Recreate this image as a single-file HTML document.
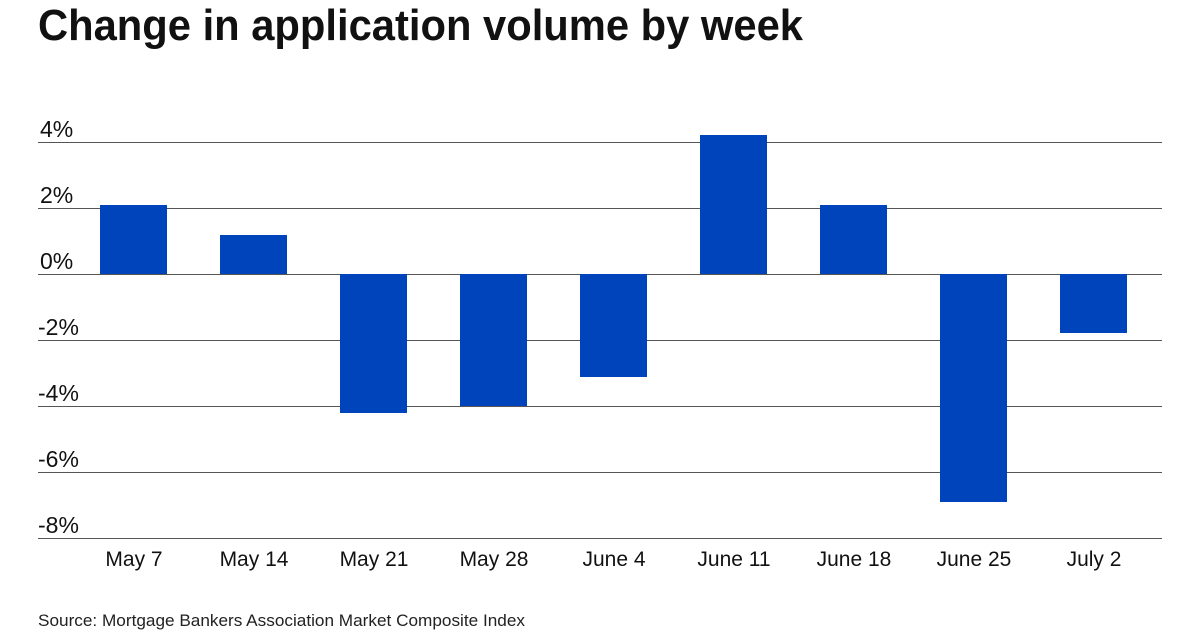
<!DOCTYPE html>
<html><head><style>body{margin:0;background:#fff}svg{display:block}</style></head>
<body>
<svg width="1200" height="630" xmlns="http://www.w3.org/2000/svg" font-family="Liberation Sans, sans-serif">
<rect width="1200" height="630" fill="#fff"/>
<text x="38" y="40" font-size="44" font-weight="bold" fill="#111" textLength="765" lengthAdjust="spacingAndGlyphs">Change in application volume by week</text>
<g stroke="#555" stroke-width="1">
<line x1="38" x2="1162" y1="142.5" y2="142.5"/>
<line x1="38" x2="1162" y1="208.5" y2="208.5"/>
<line x1="38" x2="1162" y1="274.5" y2="274.5"/>
<line x1="38" x2="1162" y1="340.5" y2="340.5"/>
<line x1="38" x2="1162" y1="406.5" y2="406.5"/>
<line x1="38" x2="1162" y1="472.5" y2="472.5"/>
<line x1="38" x2="1162" y1="538.5" y2="538.5"/>
</g>
<g font-size="23" fill="#111">
<text x="40" y="137">4%</text>
<text x="40" y="203">2%</text>
<text x="40" y="269">0%</text>
<text x="38" y="335">-2%</text>
<text x="38" y="401">-4%</text>
<text x="38" y="467">-6%</text>
<text x="38" y="533">-8%</text>
</g>
<g fill="#0044bb">
<rect x="100" y="205" width="67" height="69"/>
<rect x="220" y="235" width="67" height="39"/>
<rect x="340" y="274" width="67" height="139"/>
<rect x="460" y="274" width="67" height="132"/>
<rect x="580" y="274" width="67" height="103"/>
<rect x="700" y="135" width="67" height="139"/>
<rect x="820" y="205" width="67" height="69"/>
<rect x="940" y="274" width="67" height="228"/>
<rect x="1060" y="274" width="67" height="59"/>
</g>
<g font-size="21" fill="#111" text-anchor="middle">
<text x="134" y="566">May 7</text>
<text x="254" y="566">May 14</text>
<text x="374" y="566">May 21</text>
<text x="494" y="566">May 28</text>
<text x="614" y="566">June 4</text>
<text x="734" y="566">June 11</text>
<text x="854" y="566">June 18</text>
<text x="974" y="566">June 25</text>
<text x="1094" y="566">July 2</text>
</g>
<text x="38" y="626" font-size="17" fill="#222" textLength="487" lengthAdjust="spacingAndGlyphs">Source: Mortgage Bankers Association Market Composite Index</text>
</svg>
</body></html>
